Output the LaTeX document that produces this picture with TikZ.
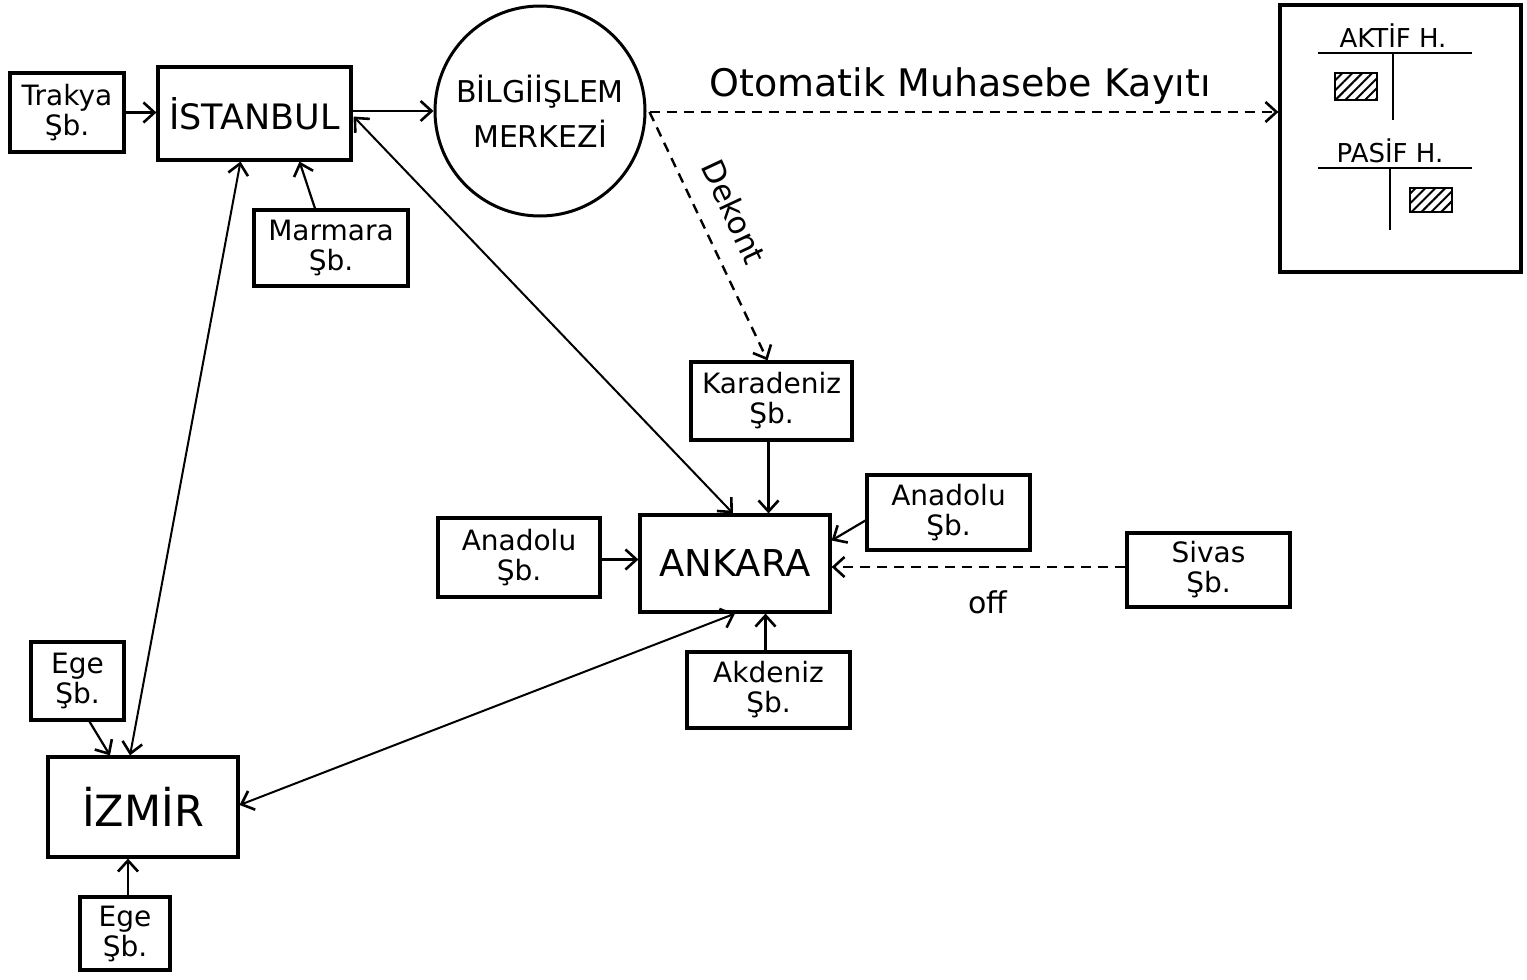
\documentclass[tikz,border=0pt]{standalone}
\usepackage{fontspec}
\setmainfont{DejaVu Sans}
\usetikzlibrary{arrows.meta,patterns.meta,calc}
\begin{document}
\begin{tikzpicture}[x=1pt,y=-1pt,
  >={Straight Barb[length=11pt,width=20pt,line width=2.6pt]},
  box/.style={draw, line width=3.2pt, inner sep=0pt, align=center},
  small/.style={font=\fontsize{28}{30}\selectfont},
  conn/.style={line width=2.2pt, ->},
  both/.style={line width=2pt, <->},
  dashconn/.style={line width=2.4pt, ->, dash pattern=on 10pt off 7pt},
  hatch/.style={draw, line width=2.6pt, pattern={Lines[angle=45,distance=7pt,line width=2pt]}},
  rule/.style={line width=2.6pt},
]
\fill[white] (0,0) rectangle (1527,980);
\useasboundingbox (0,0) rectangle (1527,980);

% nodes
\node[box, small, minimum width=114pt, minimum height=79pt] (trakya) at (67,112.5) {Trakya\\Şb.};
\node[box, font=\fontsize{35}{38}\selectfont, minimum width=193pt, minimum height=93pt] (ist) at (254.5,113.5) {İSTANBUL};
\node[box, small, minimum width=154pt, minimum height=76pt] (marmara) at (331,248) {Marmara\\Şb.};
\node[draw, circle, line width=3pt, minimum size=210pt, inner sep=0pt, align=center,
      font=\fontsize{30}{45}\selectfont] (bm) at (540,111) {BİLGİİŞLEM\\MERKEZİ};
\node[box, minimum width=241pt, minimum height=267pt] (acct) at (1400.5,138.5) {};
\node[box, small, minimum width=161pt, minimum height=78pt] (karadeniz) at (771.5,401) {Karadeniz\\Şb.};
\node[box, font=\fontsize{37}{40}\selectfont, minimum width=190pt, minimum height=97pt] (ankara) at (735,563.5) {ANKARA};
\node[box, small, minimum width=162pt, minimum height=79pt] (anadoluL) at (519,557.5) {Anadolu\\Şb.};
\node[box, small, minimum width=163pt, minimum height=75pt] (anadoluR) at (948.5,512.5) {Anadolu\\Şb.};
\node[box, small, minimum width=163pt, minimum height=74pt] (sivas) at (1208.5,570) {Sivas\\Şb.};
\node[box, small, minimum width=163pt, minimum height=76pt] (akdeniz) at (768.5,690) {Akdeniz\\Şb.};
\node[box, font=\fontsize{43}{45}\selectfont, minimum width=190pt, minimum height=100pt] (izmir) at (143,807) {İZMİR};
\node[box, small, minimum width=93pt, minimum height=78pt] (egeT) at (77.5,681) {Ege\\Şb.};
\node[box, small, minimum width=90pt, minimum height=73pt] (egeB) at (125,933.5) {Ege\\Şb.};

% account box contents
\node[font=\fontsize{26}{28}\selectfont, anchor=base] (aktif) at (1393,47) {AKTİF H.};
\draw[rule] (1318,53) -- (1472,53);
\draw[rule] (1393,53) -- (1393,120);
\draw[hatch] (1335,73) rectangle (1377,100);
\node[font=\fontsize{26}{28}\selectfont, anchor=base] (pasif) at (1390,162) {PASİF H.};
\draw[rule] (1318,168) -- (1472,168);
\draw[rule] (1390,168) -- (1390,230);
\draw[hatch] (1410,188) rectangle (1452,212);

% anchor coordinates for connectors
\coordinate (bmE) at ($(bm.east)+(3,1)$);
\coordinate (acctIn) at (bmE -| acct.west);
\coordinate (karS) at ($(karadeniz.south)+(-3,0)$);
\coordinate (ankN) at (karS |- ankara.north);
\coordinate (anLE) at ($(anadoluL.east)+(0,2)$);
\coordinate (ankW) at (anLE -| ankara.west);
\coordinate (sivW) at ($(sivas.west)+(0,-3)$);
\coordinate (ankE) at (sivW -| ankara.east);
\coordinate (akdN) at ($(akdeniz.north)+(-3,0)$);
\coordinate (ankS) at (akdN |- ankara.south);
\coordinate (egeBN) at ($(egeB.north)+(3,0)$);
\coordinate (izmS) at (egeBN |- izmir.south);
\coordinate (trkE) at (trakya.east);
\coordinate (istW) at (trkE -| ist.west);
\coordinate (istE) at (bm.west -| ist.east);

% connectors
\draw[conn] (trkE) -- (istW);
\draw[conn] (istE) -- (bm.west);
\draw[conn] ($(marmara.north)+(-16,0)$) -- ($(ist.south)+(45,0)$);
\draw[both] ($(ist.south)+(-14,0)$) -- ($(izmir.north)+(-13,0)$);
\draw[both] ($(ist.east)+(1,3)$) -- ($(ankara.north)+(-2,0)$);
\draw[dashconn] (bmE) -- ($(karadeniz.north)+(-4,0)$);
\node[font=\fontsize{31}{33}\selectfont, rotate=-65] (dekont) at (734,212) {Dekont};
\draw[dashconn] (bmE) -- (acctIn);
\node[font=\fontsize{38}{40}\selectfont] (otomatik) at (960,86) {Otomatik Muhasebe Kayıtı};
\draw[conn] (karS) -- (ankN);
\draw[conn] (anLE) -- (ankW);
\draw[conn] ($(anadoluR.west)+(0,8)$) -- ($(ankara.east)+(0,-23)$);
\draw[dashconn] (sivW) -- (ankE);
\node[font=\fontsize{30}{32}\selectfont] (off) at (988,602) {off};
\draw[conn] (akdN) -- (ankS);
\draw[both] (ankara.south) -- ($(izmir.east)+(0,-2)$);
\draw[conn] ($(egeT.south)+(12,0)$) -- ($(izmir.north)+(-33,0)$);
\draw[conn] (egeBN) -- (izmS);
\end{tikzpicture}
\end{document}
